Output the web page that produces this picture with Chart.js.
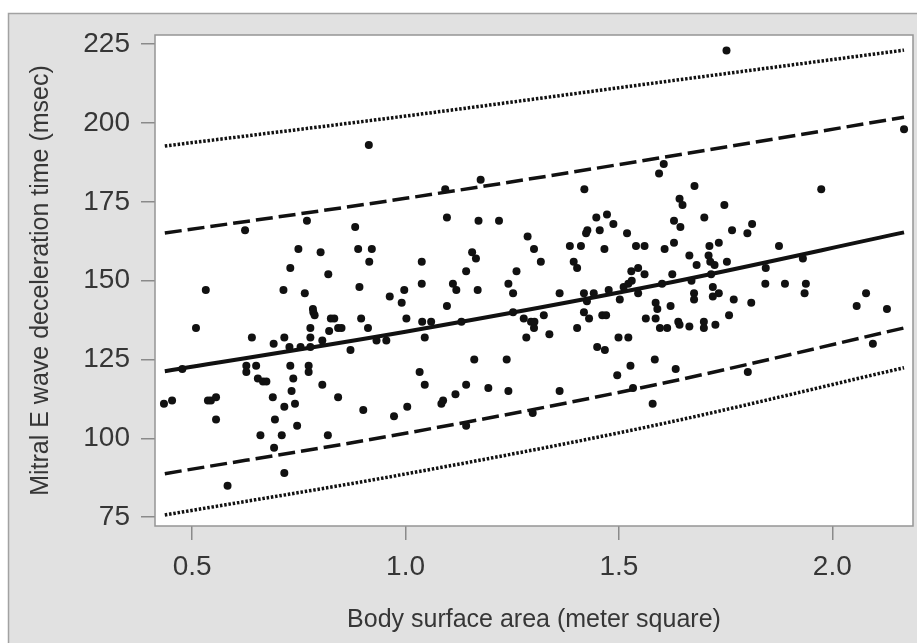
<!DOCTYPE html>
<html>
<head>
<meta charset="utf-8">
<script src="https://cdn.jsdelivr.net/npm/chart.js@4.4.1/dist/chart.umd.min.js"></script>
<style>
  body { margin: 0; background: #fff; }
  canvas { display: block; }
</style>
</head>
<body>
<canvas id="chart" width="917" height="643"></canvas>
<script>
// body surface area (m2) for each patient
const bsaValues = [
  0.624, 0.769, 0.882, 0.749, 0.801, 0.889, 0.921, 0.915, 0.730, 0.819,
  0.532, 0.714, 0.764, 0.892, 0.963, 0.991, 0.997, 0.509, 0.783, 0.784,
  0.787, 0.825, 0.833, 0.896, 0.777, 0.842, 0.850, 0.912, 0.821, 1.002,
  0.640, 0.716, 0.777, 0.805, 0.932, 0.955, 0.691, 0.728, 0.754, 0.777,
  0.871, 0.477, 0.627, 0.627, 0.650, 0.654, 0.666, 0.674, 0.730, 0.737,
  0.733, 0.773, 0.773, 0.805, 0.842, 0.689, 0.716, 0.741, 0.434, 0.453,
  0.537, 0.544, 0.556, 0.556, 0.694, 0.746, 0.660, 0.710, 0.818, 0.692,
  0.716, 0.583, 0.901, 0.973, 1.004, 0.914,
  1.093, 1.176, 1.419, 1.097, 1.171, 1.219, 1.447, 1.472, 1.487, 1.426,
  1.423, 1.455, 1.519, 1.286, 1.301, 1.385, 1.411, 1.466, 1.540, 1.560,
  1.038, 1.156, 1.165, 1.317, 1.394, 1.402, 1.142, 1.260, 1.529, 1.545,
  1.560,
  1.038, 1.111, 1.119, 1.169, 1.241, 1.252, 1.361, 1.418, 1.425, 1.441,
  1.476, 1.502, 1.511, 1.530, 1.522, 1.545, 1.586, 1.586, 1.563, 1.097,
  1.039, 1.060, 1.045, 1.131, 1.252, 1.277, 1.294, 1.302, 1.301, 1.283,
  1.324, 1.337, 1.402, 1.418, 1.430, 1.461, 1.470, 1.449, 1.467, 1.499,
  1.522, 1.161, 1.237, 1.033, 1.045, 1.142, 1.117, 1.088, 1.084, 1.194,
  1.241, 1.361, 1.527, 1.496, 1.584, 1.579, 1.142, 1.298, 1.533,
  1.752, 2.168, 1.594, 1.605, 1.677, 1.974, 1.642, 1.649, 1.747, 1.700,
  1.629, 1.644, 1.812, 1.801, 1.765, 1.629, 1.607, 1.734, 1.712, 1.875,
  1.665, 1.710, 1.682, 1.714, 1.724, 1.753, 1.625, 1.844, 1.931, 1.716,
  1.601,
  1.670, 1.720, 1.734, 1.720, 1.676, 1.676, 1.843, 1.889, 1.938, 1.935,
  1.769, 1.810, 2.079, 2.057, 2.128, 1.590, 1.621, 1.596, 1.613, 1.639,
  1.642, 1.665, 1.699, 1.699, 1.726, 1.758, 1.633, 1.802, 2.095
];

// mitral E wave deceleration time (msec), same order as bsaValues
const dtValues = [
  166, 169, 167, 160, 159, 160, 160, 156, 154, 152,
  147, 147, 146, 148, 145, 143, 147, 135, 141, 140,
  139, 138, 138, 138, 135, 135, 135, 135, 134, 138,
  132, 132, 132, 131, 131, 131, 130, 129, 129, 129,
  128, 122, 123, 121, 123, 119, 118, 118, 123, 119,
  115, 123, 121, 117, 113, 113, 110, 111, 111, 112,
  112, 112, 113, 106, 106, 104, 101, 101, 101, 97,
  89, 85, 109, 107, 110, 193,
  179, 182, 179, 170, 169, 169, 170, 171, 168, 166,
  165, 166, 165, 164, 160, 161, 161, 160, 161, 161,
  156, 159, 157, 156, 156, 154, 153, 153, 153, 154,
  152,
  149, 149, 147, 147, 149, 146, 146, 146, 143.5, 146,
  147, 144, 148, 150, 149, 146, 143, 138, 138, 142,
  137, 137, 132, 137, 140, 138, 137, 137, 135, 132,
  139, 133, 135, 140, 138, 139, 139, 129, 128, 132,
  132, 125, 125, 121, 117, 117, 114, 112, 111, 116,
  115, 115, 123, 120, 125, 111, 104, 108, 116,
  223, 198, 184, 187, 180, 179, 176, 174, 174, 170,
  169, 167, 168, 165, 166, 162, 160, 162, 161, 161,
  158, 158, 155, 156, 155, 156, 152, 154, 157, 152,
  149,
  150, 148, 146, 145, 146, 144, 149, 149, 149, 146,
  144, 143, 146, 142, 141, 141, 142, 135, 135, 137,
  136, 135.5, 137, 135, 136, 139, 122, 121, 130
];

// regression line and limits
const curveX = [0.436, 1.0, 1.59, 2.168];
const upperDotted = [192.7, 202.2, 212.8, 223.1];
const upperDashed = [165.1, 176.1, 188.8, 201.8];
const fitLine = [121.3, 133.8, 148.6, 165.3];
const lowerDashed = [88.8, 101.6, 117.1, 135.0];
const lowerDotted = [75.7, 88.7, 104.3, 122.4];

const xTicks = [0.5, 1.0, 1.5, 2.0];
const yTicks = [75, 100, 125, 150, 175, 200, 225];

const pts = bsaValues.map((x, i) => ({ x: x, y: dtValues[i] }));
const toXY = (ys) => curveX.map((x, i) => ({ x: x, y: ys[i] }));

const FONT = "'Liberation Sans Narrow', 'Arial Narrow', 'Liberation Sans', sans-serif";

const panelBg = {
  id: 'panelBg',
  beforeDraw(chart) {
    const ctx = chart.ctx;
    const a = chart.chartArea;
    ctx.save();
    ctx.fillStyle = '#ffffff';
    ctx.fillRect(0, 0, chart.width, chart.height);
    ctx.fillStyle = '#e1e1e1';
    ctx.fillRect(8, 13, chart.width - 8, chart.height - 13);
    ctx.strokeStyle = '#a2a2a2';
    ctx.lineWidth = 1.5;
    ctx.beginPath();
    ctx.moveTo(8.5, chart.height);
    ctx.lineTo(8.5, 13.5);
    ctx.lineTo(chart.width, 13.5);
    ctx.stroke();
    ctx.fillStyle = '#ffffff';
    ctx.fillRect(a.left, a.top, a.right - a.left, a.bottom - a.top);
    ctx.restore();
  },
  afterDraw(chart) {
    const ctx = chart.ctx;
    const a = chart.chartArea;
    ctx.save();
    ctx.strokeStyle = '#959595';
    ctx.lineWidth = 1.5;
    ctx.strokeRect(a.left, a.top, a.right - a.left, a.bottom - a.top);
    ctx.restore();
  }
};

const lineDs = (ys, width, dash) => ({
  data: toXY(ys),
  showLine: true,
  borderColor: '#111111',
  borderWidth: width,
  borderDash: dash,
  pointRadius: 0,
  cubicInterpolationMode: 'monotone',
  fill: false
});

new Chart(document.getElementById('chart'), {
  type: 'scatter',
  data: {
    datasets: [
      {
        data: pts,
        pointRadius: 4,
        pointBackgroundColor: '#111111',
        pointBorderWidth: 0
      },
      lineDs(fitLine, 4, []),
      lineDs(upperDashed, 3.5, [17, 6]),
      lineDs(lowerDashed, 3.5, [17, 6]),
      lineDs(upperDotted, 3.5, [2.5, 1.8]),
      lineDs(lowerDotted, 3.5, [2.5, 1.8])
    ]
  },
  options: {
    responsive: false,
    animation: false,
    layout: { padding: { top: 35, right: 2, left: 0, bottom: 0 } },
    plugins: {
      legend: { display: false },
      tooltip: { enabled: false }
    },
    scales: {
      x: {
        type: 'linear',
        min: 0.413,
        max: 2.189,
        afterFit: (scale) => { scale.height = 117; },
        afterBuildTicks: (scale) => { scale.ticks = xTicks.map(v => ({ value: v })); },
        border: { display: false },
        grid: { drawOnChartArea: false, drawTicks: true, tickLength: 14, color: '#8a8a8a', lineWidth: 1.5 },
        ticks: {
          padding: 10,
          color: '#363636',
          font: { family: FONT, size: 28 },
          callback: (v) => v.toFixed(1)
        },
        title: {
          display: true,
          text: 'Body surface area (meter square)',
          color: '#363636',
          font: { family: FONT, size: 25 },
          padding: { top: 0, bottom: 8 }
        }
      },
      y: {
        min: 72.2,
        max: 227.9,
        afterFit: (scale) => { scale.width = 155; },
        afterBuildTicks: (scale) => { scale.ticks = yTicks.map(v => ({ value: v })); },
        border: { display: false },
        grid: { drawOnChartArea: false, drawTicks: true, tickLength: 14, color: '#8a8a8a', lineWidth: 1.5 },
        ticks: {
          padding: 11,
          color: '#363636',
          font: { family: FONT, size: 28 }
        },
        title: {
          display: true,
          text: 'Mitral E wave deceleration time (msec)',
          color: '#363636',
          font: { family: FONT, size: 25 },
          padding: { top: 26, bottom: 0 }
        }
      }
    }
  },
  plugins: [panelBg]
});
</script>
</body>
</html>
